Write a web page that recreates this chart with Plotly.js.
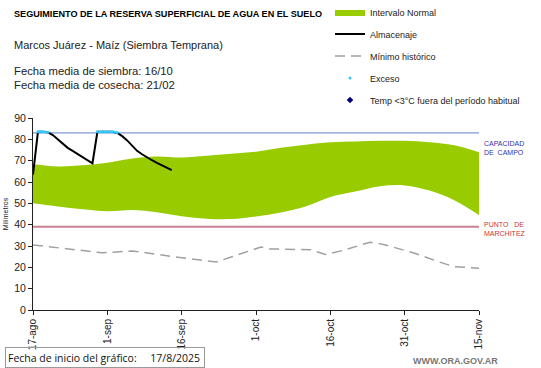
<!DOCTYPE html>
<html>
<head>
<meta charset="utf-8">
<script src="https://cdn.plot.ly/plotly-3.0.1.min.js"></script>
<style>html,body{margin:0;padding:0;background:#fff;}#chart{width:541px;height:368px;}</style>
</head>
<body>
<div id="chart"></div>
<script>
// ---- data (x = days since 17-ago-2025) ----
const tickDays = [0, 15, 30, 45, 60, 75, 90];
const tickLabels = ["17-ago", "1-sep", "16-sep", "1-oct", "16-oct", "31-oct", "15-nov"];

const bandDays = [0, 5, 10, 15, 20, 25, 30, 35, 40, 45, 50, 55, 60, 65, 70, 75, 80, 85, 90];
const bandUpper = [68.3, 67.3, 67.8, 69.0, 71.0, 72.0, 71.5, 72.3, 73.3, 74.2, 76.0, 77.5, 78.6, 79.0, 79.3, 79.3, 78.6, 77.2, 74.0];
const bandLower = [50.0, 48.5, 47.2, 46.3, 46.9, 45.8, 44.0, 42.8, 42.6, 43.8, 45.7, 48.5, 53.0, 55.5, 58.0, 58.4, 56.0, 51.5, 44.5];

const minDays = [0, 14, 17, 20, 30, 37, 46, 48, 56, 59, 63, 68, 71, 77, 82, 85, 90];
const minHist = [30.5, 26.8, 27.2, 27.7, 24.5, 22.5, 29.5, 28.6, 28.3, 26.0, 28.2, 31.8, 30.6, 26.6, 22.5, 20.3, 19.6];

const almDays = [0, 1, 2, 3, 4, 5, 6, 7, 8, 9, 10, 11, 12, 13, 14, 15, 16, 17, 18, 19, 20, 21, 22, 23, 24, 25, 26, 27, 28];
const almacenaje = [63.5, 83.5, 83.5, 83.3, 82.0, 80.0, 77.8, 76.0, 74.6, 73.2, 71.8, 70.3, 68.8, 83.5, 83.5, 83.5, 83.5, 83.0, 81.5, 79.5, 76.8, 74.6, 73.0, 71.5, 70.2, 69.0, 67.8, 66.6, 65.6];

const excesoDays = [1, 1.5, 2, 2.5, 3, 13, 13.5, 14, 14.5, 15, 15.5, 16, 16.5, 17];
const exceso = [83.5, 83.5, 83.5, 83.4, 83.3, 83.5, 83.5, 83.5, 83.5, 83.5, 83.5, 83.5, 83.4, 83.2];

const limitDays = [0, 90];
const capacidadCampo = [83, 83];
const puntoMarchitez = [39, 39];

const FONT = "Liberation Sans, Arial, sans-serif";

const traces = [
  {x: limitDays, y: capacidadCampo, mode: "lines", line: {color: "#6080c8", width: 1}, showlegend: false, hoverinfo: "skip"},
  {x: limitDays, y: puntoMarchitez, mode: "lines", line: {color: "#c98090", width: 2}, showlegend: false, hoverinfo: "skip"},
  {x: bandDays, y: bandLower, mode: "lines", line: {width: 0, shape: "spline", color: "#99cc00"}, showlegend: false, hoverinfo: "skip"},
  {x: bandDays, y: bandUpper, mode: "lines", fill: "tonexty", fillcolor: "#99cc00", line: {width: 0, shape: "spline", color: "#99cc00"}, name: "Intervalo Normal", legendgroup: "a"},
  {x: almDays, y: almacenaje, mode: "lines", line: {color: "#000000", width: 2}, name: "Almacenaje", legendgroup: "b"},
  {x: minDays, y: minHist, mode: "lines", line: {color: "#a0a0a0", width: 1.5, dash: "10px,6px"}, name: "Mínimo histórico", legendgroup: "c"},
  {x: excesoDays, y: exceso, mode: "markers", marker: {color: "#33ccff", size: 3, symbol: "circle"}, name: "Exceso", legendgroup: "d"},
  {x: [null], y: [null], mode: "markers", marker: {color: "#000080", size: 5, symbol: "diamond"}, name: "Temp <3°C fuera del período habitual", legendgroup: "e"}
];

const px = x => (x - 33) / 446;
const py = y => (310 - y) / 192;

const layout = {
  width: 541, height: 368,
  margin: {l: 33, r: 62, t: 118, b: 58, autoexpand: false},
  paper_bgcolor: "#ffffff", plot_bgcolor: "#ffffff",
  font: {family: FONT, color: "#222"},
  xaxis: {
    range: [0, 90], tickvals: tickDays, ticktext: tickLabels, tickangle: -90, automargin: false,
    showgrid: false, zeroline: false, showline: true, linecolor: "#222", linewidth: 1,
    ticks: "outside", ticklen: 4, tickcolor: "#222", tickfont: {size: 10, family: FONT, color: "#222"}
  },
  yaxis: {
    range: [0, 90], tickvals: [0,10,20,30,40,50,60,70,80,90], showgrid: false, zeroline: false, automargin: false,
    showline: true, linecolor: "#222", linewidth: 1, ticks: "outside", ticklen: 4, tickcolor: "#222",
    tickfont: {size: 10.5, family: FONT, color: "#222"},
    title: {text: "Milímetros", font: {size: 7, family: FONT, color: "#222"}, standoff: 4}
  },
  legend: {
    x: px(330), y: py(-2.5), xanchor: "left", yanchor: "top", bgcolor: "rgba(0,0,0,0)",
    font: {size: 9, family: FONT, color: "#222"}, tracegroupgap: 3, itemwidth: 30
  },
  showlegend: true,
  annotations: [
    {xref: "paper", yref: "paper", x: px(12), y: py(14), xanchor: "left", yanchor: "middle", showarrow: false,
     text: "<b>SEGUIMIENTO DE LA RESERVA SUPERFICIAL DE AGUA EN EL SUELO</b>", font: {size: 9.1, family: FONT, color: "#000"}},
    {xref: "paper", yref: "paper", x: px(12), y: py(45), xanchor: "left", yanchor: "middle", showarrow: false,
     text: "Marcos Juárez - Maíz (Siembra Temprana)", font: {size: 11, family: FONT, color: "#222"}},
    {xref: "paper", yref: "paper", x: px(12), y: py(71), xanchor: "left", yanchor: "middle", showarrow: false,
     text: "Fecha media de siembra: 16/10", font: {size: 11.3, family: FONT, color: "#222"}},
    {xref: "paper", yref: "paper", x: px(12), y: py(85), xanchor: "left", yanchor: "middle", showarrow: false,
     text: "Fecha media de cosecha: 21/02", font: {size: 11.3, family: FONT, color: "#222"}},
    {xref: "paper", yref: "paper", x: px(482), y: py(148), xanchor: "left", yanchor: "middle", showarrow: false, align: "left",
     text: "CAPACIDAD<br>DE  CAMPO", font: {size: 7, family: FONT, color: "#3333aa"}},
    {xref: "paper", yref: "paper", x: px(482), y: py(229), xanchor: "left", yanchor: "middle", showarrow: false, align: "left",
     text: "PUNTO   DE<br>MARCHITEZ", font: {size: 7, family: FONT, color: "#cc3333"}},
    {xref: "paper", yref: "paper", x: px(5), y: py(357), xanchor: "left", yanchor: "middle", showarrow: false, align: "left",
     text: "Fecha de inicio del gráfico:&nbsp;&nbsp;&nbsp;&nbsp;&nbsp;17/8/2025", font: {size: 10.5, family: "Open Sans, sans-serif", color: "#111"},
     bordercolor: "#999", borderwidth: 1, borderpad: 2, width: 194, height: 15},
    {xref: "paper", yref: "paper", x: px(500), y: py(361), xanchor: "right", yanchor: "middle", showarrow: false,
     text: "<b>WWW.ORA.GOV.AR</b>", font: {size: 9, family: FONT, color: "#777"}}
  ]
};

Plotly.newPlot("chart", traces, layout, {displayModeBar: false, staticPlot: true});
</script>
</body>
</html>
